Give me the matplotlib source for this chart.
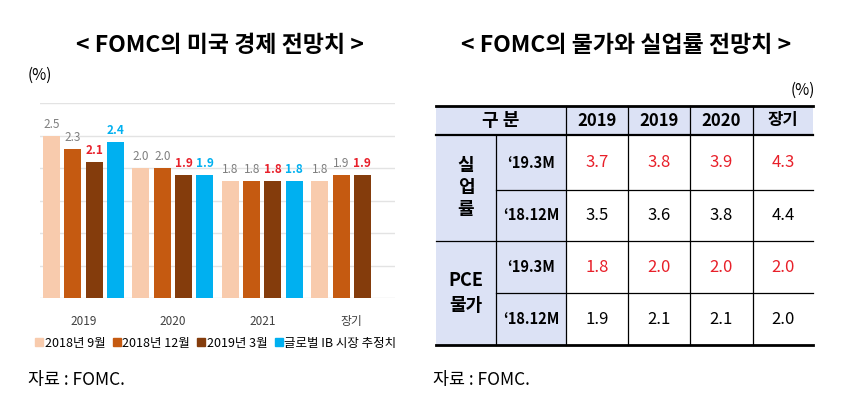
import numpy as np
import matplotlib
matplotlib.use("Agg")
import matplotlib.pyplot as plt
from matplotlib.patches import Rectangle
from matplotlib.lines import Line2D

plt.rcParams['font.family'] = ['Noto Sans CJK KR', 'DejaVu Sans']

# left chart data
categories = ['2019', '2020', '2021', '장기']
series_names = ['2018년 9월', '2018년 12월', '2019년 3월', '글로벌 IB 시장 추정치']
sep18 = [2.5, 2.0, 1.8, 1.8]
dec18 = [2.3, 2.0, 1.8, 1.9]
mar19 = [2.1, 1.9, 1.8, 1.9]
ib_est = [2.4, 1.9, 1.8, None]

# right table data
years = ['2019', '2019', '2020', '장기']
row_groups = ['실\n업\n률', 'PCE\n물가']
row_labels = ['‘19.3M', '‘18.12M']
unemp_mar19 = [3.7, 3.8, 3.9, 4.3]
unemp_dec18 = [3.5, 3.6, 3.8, 4.4]
pce_mar19 = [1.8, 2.0, 2.0, 2.0]
pce_dec18 = [1.9, 2.1, 2.1, 2.0]

colors = ['#F8CBAD', '#C55A11', '#843C0C', '#00B0F0']
label_colors = ['#7F7F7F', '#7F7F7F', '#E8202A', '#00B0F0']
label_weights = ['normal', 'normal', 'bold', 'bold']

W, H = 853, 399
fig = plt.figure(figsize=(W / 100, H / 100), dpi=100)

# overlay axes in pixel coords for titles and the table
ov = fig.add_axes([0, 0, 1, 1])
ov.set_xlim(0, W)
ov.set_ylim(H, 0)
ov.axis('off')

# ---- bar chart ----
ax = fig.add_axes([40 / W, 1 - 298 / H, (395 - 40) / W, (298 - 103) / H])
all_series = [sep18, dec18, mar19, ib_est]
gpitch = 4.2
for j, s in enumerate(all_series):
    for g, v in enumerate(s):
        if v is None:
            continue
        x = g * gpitch + j
        ax.bar(x, v, width=0.8, color=colors[j], zorder=3)
        ax.text(x, v + 0.07, f'{v:.1f}', ha='center', va='bottom', fontsize=8.5,
                color=label_colors[j], fontweight=label_weights[j])
ax.set_xlim(-0.54, 16.13)
ax.set_ylim(0, 3.0)
ax.set_yticks(np.arange(0, 3.01, 0.5))
ax.set_yticklabels([])
ax.tick_params(axis='both', length=0)
ax.grid(axis='y', color='#E3E3E3', lw=1, zorder=0)
ax.set_xticks([g * gpitch + 1.5 for g in range(len(categories))])
ax.set_xticklabels(categories, fontsize=8.5, color='#404040')
ax.tick_params(axis='x', pad=12)
for sp in ax.spines.values():
    sp.set_visible(False)

handles = [Line2D([0], [0], marker='s', ls='', color=c, markersize=6) for c in colors]
fig.legend(handles, series_names, loc='center', bbox_to_anchor=(216 / W, 1 - 343 / H),
           ncol=4, frameon=False, fontsize=9, handlelength=0.6, handletextpad=0.15,
           columnspacing=0.6, borderpad=0)

ov.text(220, 45, '< FOMC의 미국 경제 전망치 >', ha='center', va='center', fontsize=16.5, fontweight='bold')
ov.text(40, 75, '(%)', ha='center', va='center', fontsize=11)
ov.text(28, 380, '자료 : FOMC.', ha='left', va='center', fontsize=12.5)

# ---- table ----
ov.text(626, 45, '< FOMC의 물가와 실업률 전망치 >', ha='center', va='center', fontsize=16.5, fontweight='bold')
ov.text(803, 90, '(%)', ha='center', va='center', fontsize=11)
ov.text(433, 380, '자료 : FOMC.', ha='left', va='center', fontsize=12.5)

cx = [436, 496, 566, 628, 690, 753, 813]
ry = [106, 135, 190, 241, 293, 345]
lav = '#DCE2F5'

ov.add_patch(Rectangle((cx[0], ry[0]), cx[-1] - cx[0], ry[1] - ry[0], color=lav, lw=0))
ov.add_patch(Rectangle((cx[0], ry[1]), cx[2] - cx[0], ry[-1] - ry[1], color=lav, lw=0))

# header
ov.text((cx[0] + cx[2]) / 2, (ry[0] + ry[1]) / 2, '구 분', ha='center', va='center', fontsize=13, fontweight='bold')
for i, yr in enumerate(years):
    ov.text((cx[i + 2] + cx[i + 3]) / 2, (ry[0] + ry[1]) / 2, yr, ha='center', va='center',
            fontsize=12, fontweight='bold')

# row group labels
ov.text((cx[0] + cx[1]) / 2, (ry[1] + ry[3]) / 2, row_groups[0], ha='center', va='center',
        fontsize=13, fontweight='bold', linespacing=1.2)
ov.text((cx[0] + cx[1]) / 2, (ry[3] + ry[5]) / 2, row_groups[1], ha='center', va='center',
        fontsize=13, fontweight='bold', linespacing=1.35)

rows = [unemp_mar19, unemp_dec18, pce_mar19, pce_dec18]
for r, vals in enumerate(rows):
    yc = (ry[r + 1] + ry[r + 2]) / 2
    ov.text((cx[1] + cx[2]) / 2, yc, row_labels[r % 2], ha='center', va='center',
            fontsize=10.5, fontweight='bold')
    col = '#E8202A' if r % 2 == 0 else 'black'
    for i, v in enumerate(vals):
        ov.text((cx[i + 2] + cx[i + 3]) / 2, yc, f'{v:.1f}', ha='center', va='center',
                fontsize=12, color=col)

# lines
ov.plot([cx[0], cx[-1]], [ry[0], ry[0]], color='black', lw=2)
ov.plot([cx[0], cx[-1]], [ry[1], ry[1]], color='black', lw=1.6)
ov.plot([cx[1], cx[-1]], [ry[2], ry[2]], color='black', lw=0.9)
ov.plot([cx[0], cx[-1]], [ry[3], ry[3]], color='black', lw=0.9)
ov.plot([cx[1], cx[-1]], [ry[4], ry[4]], color='black', lw=0.9)
ov.plot([cx[0], cx[-1]], [ry[5], ry[5]], color='black', lw=2)
ov.plot([cx[1], cx[1]], [ry[1], ry[5]], color='black', lw=0.9)
for x in cx[2:6]:
    ov.plot([x, x], [ry[0], ry[5]], color='black', lw=0.9)

fig.savefig('out.png', dpi=100)
